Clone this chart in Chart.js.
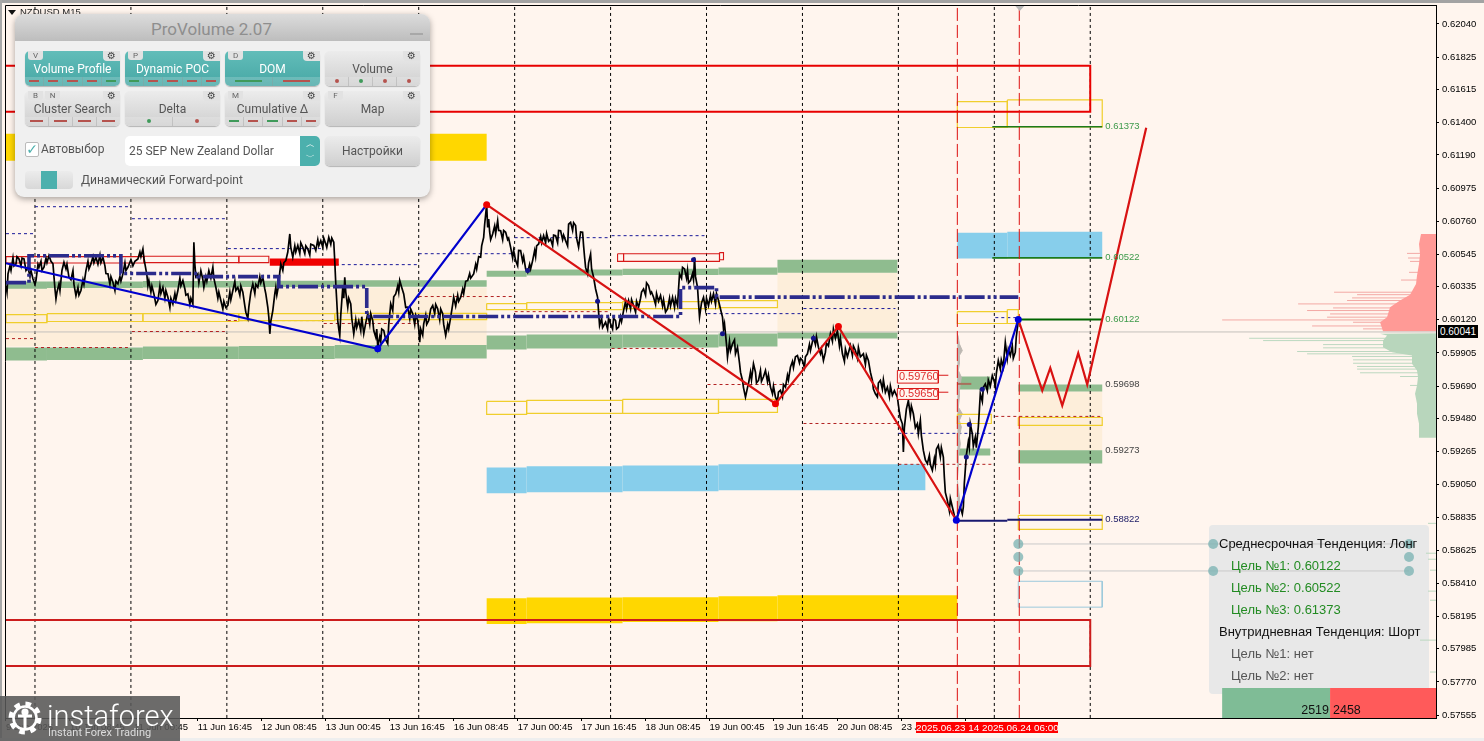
<!DOCTYPE html>
<html><head><meta charset="utf-8">
<script src="https://cdn.jsdelivr.net/npm/chart.js@4/dist/chart.umd.min.js"></script>
<style>
html,body{margin:0;padding:0;width:1484px;height:741px;overflow:hidden;background:#fff5ee}
#c{position:absolute;left:0;top:0;z-index:2}
.a{position:absolute;white-space:nowrap}
#panel{left:15px;top:14px;width:415px;height:183px;background:#f0f0f0;border-radius:9px;box-shadow:0 2px 6px rgba(0,0,0,.35);z-index:5;font-family:Roboto,sans-serif;color:#555;overflow:hidden}
#phead{left:0;top:0;width:393px;height:27px;padding-right:22px;background:linear-gradient(#dcdcdc,#bdbdbd);color:#8e8e8e;font-size:17px;line-height:30px;text-align:center}
.btn{width:95px;height:35px;border-radius:5px;background:linear-gradient(#ececec,#cfcfcf);box-shadow:0 1px 1px rgba(0,0,0,.25);font-size:12px;text-align:center;line-height:36px;color:#555}
.btn.on{background:linear-gradient(#62bdb9,#47a7a5);color:#fff}
.strip{position:absolute;left:0;bottom:0;width:95px;height:9px;background:rgba(255,255,255,.18);display:flex}
.strip i{flex:1;position:relative;border-right:1px solid rgba(150,150,150,.35);display:block}
.strip i:last-child{border-right:0}
.strip i b{position:absolute;left:22%;right:22%;top:3px;height:1.5px;display:block}
.strip i u{position:absolute;left:50%;top:2px;width:4px;height:4px;margin-left:-2px;border-radius:2px;display:block}
.tab{position:absolute;top:0;height:9px;width:15px;font-size:8px;line-height:9px;color:#666;background:#e2e2e2;border-radius:0 0 3px 3px;text-align:center}
.gear{position:absolute;right:0;top:0;height:10px;width:17px;font:10px/10px "DejaVu Sans";color:#444;background:#e2e2e2;border-radius:0 0 0 4px;text-align:center}
#trend{left:1209px;top:525px;width:220px;height:169px;background:#e8e8e8;border-radius:4px;z-index:1}
.t{font-family:"Liberation Sans",sans-serif;font-size:13px;z-index:3;line-height:16px}
#logo{left:0;top:696px;width:180px;height:45px;background:rgba(88,88,88,.88);z-index:6;color:#fff;font-family:Roboto,sans-serif;overflow:hidden}
</style></head><body>
<div class="a" style="left:0;top:0;width:1484px;height:3px;background:#a3a3a3"></div>
<div class="a" style="left:0;top:0;width:2px;height:741px;background:#a8a8a8"></div>
<div class="a" style="left:0;top:738px;width:1484px;height:3px;background:#eeeeee"></div>
<div class="a" id="trend"></div>
<canvas id="c" width="1484" height="741"></canvas>
<div class="a" style="left:8px;top:8px;width:0;height:0;border:4px solid transparent;border-top:5px solid #111;z-index:3;margin-top:2px"></div>
<div class="a" style="left:20px;top:6px;font:9.5px 'Liberation Sans';color:#222;z-index:3">NZDUSD,M15</div>
<div class="a" style="left:1438px;top:325px;width:40px;height:13px;background:#000;color:#fff;font:10px/13px 'Liberation Sans';text-align:center;z-index:3">0.60041</div>
<div class="a" style="left:916px;top:722px;width:142px;height:11px;background:#f00;color:#fff;font:9.9px/11px 'Liberation Sans';text-align:center;z-index:3">2025.06.23 14 2025.06.24 06:00</div>
<div class="a t" style="left:1219px;top:536px;color:#111">Среднесрочная Тенденция: Лонг</div>
<div class="a t" style="left:1231px;top:558px;color:#228b22">Цель №1: 0.60122</div>
<div class="a t" style="left:1231px;top:580px;color:#228b22">Цель №2: 0.60522</div>
<div class="a t" style="left:1231px;top:602px;color:#228b22">Цель №3: 0.61373</div>
<div class="a t" style="left:1219px;top:624px;color:#111">Внутридневная Тенденция: Шорт</div>
<div class="a t" style="left:1231px;top:646px;color:#555">Цель №1: нет</div>
<div class="a t" style="left:1231px;top:668px;color:#555">Цель №2: нет</div>
<div class="a" style="left:1222px;top:703px;width:107px;text-align:right;font:12.5px 'Liberation Sans';color:#111;z-index:3">2519</div>
<div class="a" style="left:1333px;top:703px;font:12.5px 'Liberation Sans';color:#111;z-index:3">2458</div>
<div class="a" id="panel">
 <div class="a" id="phead">ProVolume 2.07</div>
 <div class="a" style="left:395px;top:19px;width:13px;height:2px;background:#a8a8a8"></div>
 <div class="a" style="left:10px;top:128px;width:12px;height:13px;background:#fff;border:1px solid #bbb;border-radius:2px;color:#4cb0ad;font:14px/12px 'DejaVu Sans';text-align:center">✓</div>
 <div class="a" style="left:26px;top:128px;font-size:12px">Автовыбор</div>
 <div class="a" style="left:110px;top:122px;width:195px;height:30px;background:#fff;border-radius:5px;font-size:12px;line-height:31px;text-indent:4px;overflow:hidden">25 SEP New Zealand Dollar
   <div class="a" style="left:175px;top:0;width:20px;height:30px;background:#4cb0ad;color:#fff;font:9px/13px 'DejaVu Sans';text-align:center;text-indent:0;white-space:normal;padding-top:2px;box-sizing:border-box">︿<br>﹀</div></div>
 <div class="a btn" style="left:310px;top:122px;height:30px;line-height:30px">Настройки</div>
 <div class="a" style="left:10px;top:157px;width:48px;height:18px;background:linear-gradient(#ececec,#d8d8d8);border-radius:4px"><div class="a" style="left:16px;top:0;width:16px;height:18px;background:#4cb0ad"></div></div>
 <div class="a" style="left:66px;top:159px;font-size:12px">Динамический Forward-point</div>
</div>
<div class="a" id="logo">
 <svg class="a" style="left:6px;top:3px" width="38" height="40" viewBox="0 0 38 40"><circle cx="19" cy="19" r="14" fill="none" stroke="#fff" stroke-width="5" stroke-dasharray="5.5 5.5"/><circle cx="19" cy="19" r="11.5" fill="none" stroke="#fff" stroke-width="2.6"/><circle cx="19" cy="13" r="3.6" fill="#fff"/><path d="M19 17 L19 30 M12 17 L26 17" stroke="#fff" stroke-width="3"/></svg>
 <div class="a" style="left:47px;top:2px;font-size:29px;line-height:36px;font-weight:300">instaforex</div>
 <div class="a" style="left:48px;top:30px;font-size:11px;line-height:14px;color:#ddd">Instant Forex Trading</div>
</div>
<script>
// ---------- axes ----------
const yTicks=[0.62040,0.61825,0.61615,0.61400,0.61190,0.60975,0.60760,0.60545,0.60335,0.60120,0.59905,0.59690,0.59480,0.59265,0.59050,0.58835,0.58625,0.58410,0.58195,0.57985,0.57770,0.57555];
const xTickBars=[1,65,129,193,257,321,385,449,513,577,641,705,769,833,897,961];
const xTickLabels=["9 Jun 2025","10 Jun 08:45","11 Jun 00:45","11 Jun 16:45","12 Jun 08:45","13 Jun 00:45","13 Jun 16:45","16 Jun 08:45","17 Jun 00:45","17 Jun 16:45","18 Jun 08:45","19 Jun 00:45","19 Jun 16:45","20 Jun 08:45","23 Jun 00:45","23 Jun 16:45"];
const lastPrice=0.60041;
const daySeparators=[30,126,222,318,414,510,606,702,798,894,990,1086];
const forecastSeparators=[953,1015];
// ---------- price path [bar, price] ----------
const pricePath=[[1,.60342],[2,.60300],[3,.60418],[5,.60470],[6,.60440],[8,.60522],[9,.60470],[11,.60483],[12,.60530],[14,.60515],[16,.60470],[17,.60520],[19,.60515],[21,.60440],[23,.60461],[25,.60400],[26,.60440],[28,.60385],[30,.60350],[31,.60375],[33,.60480],[34,.60461],[36,.60500],[37,.60440],[39,.60461],[41,.60520],[42,.60490],[44,.60537],[46,.60500],[48,.60483],[49,.60400],[50,.60320],[51,.60256],[52,.60300],[54,.60353],[55,.60310],[57,.60440],[59,.60493],[61,.60450],[62,.60480],[64,.60396],[66,.60380],[68,.60439],[69,.60350],[71,.60277],[73,.60330],[74,.60280],[76,.60310],[78,.60380],[79,.60350],[81,.60439],[83,.60500],[84,.60450],[86,.60483],[88,.60530],[89,.60490],[91,.60526],[93,.60480],[95,.60540],[96,.60490],[98,.60526],[100,.60470],[101,.60420],[103,.60418],[105,.60350],[106,.60400],[108,.60364],[110,.60310],[111,.60370],[113,.60353],[115,.60400],[116,.60370],[118,.60418],[120,.60490],[121,.60440],[123,.60461],[126,.60510],[128,.60470],[130,.60500],[133,.60515],[135,.60560],[136,.60530],[138,.60580],[139,.60520],[140,.60483],[142,.60410],[143,.60340],[144,.60375],[146,.60300],[147,.60340],[149,.60288],[151,.60220],[153,.60245],[155,.60340],[156,.60290],[158,.60331],[160,.60260],[161,.60310],[163,.60267],[165,.60200],[166,.60260],[168,.60223],[170,.60290],[171,.60250],[173,.60310],[175,.60390],[176,.60340],[178,.60375],[180,.60320],[181,.60280],[183,.60288],[185,.60220],[186,.60260],[188,.60223],[189,.60623],[190,.60480],[191,.60400],[193,.60418],[194,.60360],[196,.60439],[198,.60380],[199,.60331],[201,.60400],[202,.60370],[204,.60439],[206,.60390],[208,.60461],[209,.60390],[211,.60331],[213,.60260],[214,.60300],[216,.60245],[218,.60190],[219,.60240],[221,.60200],[223,.60213],[225,.60300],[226,.60250],[228,.60310],[230,.60370],[231,.60310],[233,.60331],[235,.60280],[236,.60340],[238,.60299],[240,.60210],[241,.60169],[243,.60130],[244,.60202],[246,.60300],[248,.60353],[250,.60290],[251,.60350],[253,.60331],[255,.60400],[256,.60360],[258,.60396],[260,.60320],[261,.60288],[263,.60200],[264,.60137],[265,.60029],[266,.60110],[268,.60180],[270,.60290],[271,.60331],[272,.60280],[274,.60353],[275,.60430],[276,.60483],[278,.60440],[279,.60490],[281,.60504],[283,.60560],[285,.60677],[286,.60590],[288,.60526],[290,.60600],[291,.60560],[293,.60602],[295,.60550],[296,.60620],[298,.60591],[300,.60550],[301,.60600],[303,.60580],[305,.60540],[306,.60610],[309,.60602],[311,.60570],[313,.60640],[314,.60600],[316,.60634],[318,.60590],[319,.60650],[321,.60612],[322,.60590],[324,.60655],[326,.60610],[327,.60650],[329,.60623],[330,.60500],[331,.60353],[332,.60240],[333,.60115],[334,.60060],[335,.60018],[336,.60150],[338,.60331],[339,.60260],[340,.60396],[341,.60300],[343,.60202],[344,.60260],[346,.60223],[347,.60130],[349,.60029],[351,.60120],[352,.60070],[354,.60115],[356,.60050],[357,.60140],[359,.60029],[361,.60100],[363,.60159],[365,.60090],[366,.60160],[368,.60115],[369,.60050],[371,.60007],[372,.60060],[373,.59943],[375,.60010],[376,.59980],[377,.60060],[379,.60051],[381,.59990],[383,.59964],[384,.60090],[386,.60223],[388,.60180],[389,.60270],[391,.60288],[393,.60340],[394,.60300],[395,.60375],[397,.60330],[399,.60288],[401,.60200],[403,.60202],[405,.60130],[406,.60190],[408,.60159],[410,.60090],[411,.60150],[413,.60115],[414,.60060],[415,.59975],[416,.60060],[418,.60020],[419,.60094],[421,.60150],[422,.60090],[424,.60115],[426,.60190],[428,.60213],[430,.60160],[431,.60220],[433,.60191],[435,.60120],[436,.60190],[438,.60159],[439,.60090],[441,.60018],[443,.60090],[444,.60060],[446,.60137],[448,.60220],[449,.60267],[451,.60210],[453,.60280],[454,.60240],[456,.60267],[458,.60320],[459,.60290],[461,.60370],[463,.60375],[465,.60420],[466,.60390],[469,.60418],[471,.60480],[472,.60450],[474,.60530],[476,.60526],[477,.60600],[479,.60655],[480,.60740],[482,.60867],[483,.60720],[484,.60774],[485,.60690],[486,.60640],[488,.60677],[490,.60730],[491,.60680],[493,.60763],[494,.60700],[496,.60698],[498,.60640],[499,.60700],[501,.60688],[503,.60640],[504,.60650],[506,.60590],[508,.60520],[509,.60570],[511,.60504],[513,.60470],[514,.60570],[516,.60569],[518,.60500],[519,.60530],[521,.60450],[523,.60428],[525,.60480],[526,.60450],[528,.60504],[530,.60570],[531,.60530],[532,.60600],[534,.60612],[536,.60660],[537,.60620],[539,.60666],[541,.60620],[542,.60680],[544,.60630],[546,.60644],[548,.60600],[549,.60670],[551,.60666],[553,.60620],[554,.60700],[556,.60698],[558,.60640],[559,.60670],[561,.60634],[563,.60600],[564,.60740],[566,.60752],[568,.60700],[569,.60750],[571,.60731],[572,.60650],[574,.60590],[576,.60690],[578,.60688],[579,.60600],[580,.60526],[581,.60460],[583,.60418],[584,.60490],[586,.60547],[587,.60450],[589,.60396],[591,.60320],[593,.60266],[594,.60170],[595,.60083],[597,.60130],[598,.60070],[601,.60104],[603,.60060],[604,.60130],[606,.60094],[608,.60060],[609,.60130],[611,.60115],[612,.60060],[614,.60072],[616,.60140],[617,.60110],[619,.60180],[621,.60240],[622,.60190],[624,.60245],[626,.60190],[627,.60250],[629,.60212],[631,.60170],[632,.60240],[634,.60202],[636,.60260],[637,.60300],[639,.60320],[641,.60280],[642,.60360],[644,.60342],[646,.60290],[647,.60300],[649,.60266],[651,.60220],[652,.60290],[654,.60240],[656,.60277],[658,.60210],[659,.60250],[661,.60170],[663,.60191],[665,.60260],[666,.60210],[668,.60266],[670,.60200],[671,.60260],[673,.60212],[674,.60320],[675,.60418],[677,.60390],[678,.60460],[680,.60450],[682,.60390],[683,.60440],[684,.60360],[686,.60375],[688,.60420],[689,.60380],[690,.60525],[691,.60400],[693,.60331],[694,.60230],[695,.60137],[697,.60230],[699,.60266],[701,.60190],[702,.60260],[704,.60212],[706,.60280],[707,.60240],[709,.60288],[711,.60220],[712,.60290],[714,.60245],[716,.60190],[718,.60137],[719,.60060],[720,.60094],[722,.59960],[723,.59877],[725,.59980],[726,.59920],[728,.59964],[730,.59990],[731,.59900],[733,.59942],[735,.59840],[736,.59780],[738,.59726],[739,.59680],[741,.59618],[743,.59680],[744,.59705],[746,.59780],[747,.59730],[749,.59834],[751,.59780],[752,.59710],[754,.59726],[756,.59790],[757,.59720],[759,.59750],[761,.59791],[763,.59720],[764,.59760],[766,.59683],[768,.59640],[769,.59690],[771,.59618],[773,.59590],[774,.59650],[776,.59662],[778,.59620],[779,.59700],[781,.59683],[783,.59760],[784,.59730],[786,.59813],[788,.59850],[789,.59810],[791,.59880],[793,.59888],[795,.59840],[796,.59870],[798,.59856],[800,.59810],[801,.59880],[803,.59899],[805,.59960],[806,.59920],[809,.60007],[811,.59960],[812,.60010],[814,.59942],[816,.59900],[817,.59930],[819,.59856],[821,.59910],[822,.59970],[824,.59950],[826,.60029],[828,.59980],[829,.60060],[831,.60000],[833,.60050],[835,.59950],[836,.60000],[838,.59899],[840,.59850],[841,.59930],[843,.59880],[846,.59953],[848,.59890],[849,.59950],[851,.59921],[853,.59870],[854,.59940],[856,.59880],[859,.59899],[861,.59830],[862,.59890],[864,.59856],[866,.59780],[868,.59726],[869,.59670],[871,.59640],[873,.59620],[874,.59710],[876,.59726],[878,.59670],[879,.59730],[881,.59650],[883,.59683],[885,.59620],[886,.59690],[888,.59630],[890,.59660],[893,.59618],[895,.59520],[896,.59480],[898,.59445],[899,.59262],[900,.59420],[902,.59540],[904,.59596],[906,.59500],[907,.59560],[909,.59510],[911,.59420],[913,.59445],[914,.59380],[916,.59467],[917,.59370],[919,.59272],[921,.59210],[923,.59186],[925,.59240],[926,.59180],[928,.59143],[930,.59220],[931,.59180],[932,.59280],[934,.59305],[936,.59230],[937,.59290],[939,.59229],[940,.59100],[941,.59000],[943,.58948],[945,.58880],[946,.58960],[948,.58905],[950,.58850],[952,.58819],[954,.58870],[956,.58905],[958,.58860],[959,.58905],[960,.59060],[962,.59240],[964,.59330],[965,.59290],[966,.59445],[968,.59380],[969,.59300],[971,.59359],[972,.59290],[974,.59424],[975,.59530],[976,.59640],[978,.59590],[979,.59680],[981,.59704],[983,.59660],[984,.59730],[986,.59690],[988,.59758],[990,.59720],[991,.59683],[992,.59770],[994,.59856],[996,.59800],[997,.59860],[999,.59812],[1000,.59900],[1001,.59974],[1003,.59870],[1004,.59930],[1006,.59888],[1008,.59950],[1009,.59870],[1011,.59910],[1012,.60010],[1014,.60115]];
// ---------- zigzags ----------
const blueWave=[[1,.60487],[373,.59932],[482,.60867]];
const redWave=[[482,.60867],[771,.59575],[834,.60076],[952,.58819]];
const blueWave2=[[952,.58819],[1014,.60122]];
const forecastWave=[[1014,.60122],[1038,.59661],[1046,.59808],[1058,.59564],[1074,.59903],[1083,.59700],[1142,.61366]];
const bluePivots=[[373,.59932],[952,.58819],[1014,.60122]];
const redPivots=[[482,.60867],[771,.59575],[834,.60076]];
const navyDots=[[689,.60510],[593,.60240],[718,.60030],[809,.60000],[978,.59670],[965,.59440],[962,.59230],[523,.60440]];
// ---------- zones [barStart, barEnd, priceTop, priceBottom] ----------
const beigeZones=[[1,482,.60329,.59946],[773,893,.60426,.60037],[1014,1098,.59655,.59273]];
const greenZones=[[1,42,.60368,.60322],[42,138,.60368,.60326],[138,234,.60371,.60329],[234,330,.60374,.60332],[330,482,.60377,.60335],
[1,42,.59940,.59856],[42,138,.59940,.59859],[138,234,.59946,.59865],[234,330,.59950,.59865],[330,482,.59956,.59869],
[482,522,.60439,.60400],[522,618,.60446,.60407],[618,714,.60452,.60411],[714,773,.60459,.60413],[773,893,.60510,.60426],
[482,522,.60018,.59927],[522,618,.60024,.59934],[618,714,.60024,.59940],[714,773,.60031,.59946],[773,893,.60037,.59998],
[953,986,.59752,.59668],[953,986,.59285,.59240],[1014,1098,.59700,.59655],[1014,1098,.59273,.59188]];
const blueZones=[[482,522,.59162,.58994],[522,618,.59169,.59000],[618,714,.59175,.59007],[714,921,.59182,.59013],[953,1003,.60685,.60517],[1003,1098,.60692,.60523]];
const goldZones=[[1,482,.61327,.61152],[482,522,.58313,.58145],[522,618,.58317,.58151],[618,714,.58320,.58158],[714,773,.58326,.58164],[773,953,.58333,.58171]];
const yellowBoxes=[[1,42,.60154,.60102],[42,138,.60160,.60109],[138,234,.60160,.60109],[234,330,.60160,.60115],[330,482,.60162,.60121],
[482,522,.60225,.60186],[522,618,.60232,.60186],[618,714,.60238,.60193],[714,773,.60245,.60199],
[482,522,.59590,.59506],[522,618,.59597,.59512],[618,714,.59603,.59512],[714,773,.59603,.59519],
[953,1003,.61536,.61368],[1003,1098,.61547,.61372],[953,1003,.60173,.60096],[1003,1014,.60186,.60096],
[953,987,.59506,.59447],[1014,1098,.59486,.59435],[1014,1098,.58851,.58760]];
const redBoxes=[[1,139,.60530,.60489],[139,234,.60532,.60491],[234,264,.60532,.60491],[613,619,.60549,.60499],[619,715,.60549,.60499],[715,719,.60556,.60510]];
const solidRedZones=[[265,334,.60517,.60471]];
const skyOutline=[[1014,1098,.58423,.58255]];
const bigRedTop=[[0,.61768],[1086,.61768],[1086,.61470],[0,.61470]];
const bigRedBottom=[[0,.58171],[1086,.58171],[1086,.57873],[0,.57873]];
// ---------- levels [barStart, barEnd, price] ----------
const navyDashed=[[1,29,.60679],[30,123,.60854],[127,220,.60776],[223,318,.60582],[331,413,.60478],[414,510,.60549],[510,603,.60653],[607,700,.60666],[703,796,.60160],[799,891,.60193],[894,987,.59383],[991,1014,.60134]];
const redDashed=[[1,29,.59998],[30,123,.59940],[127,220,.60044],[223,318,.60115],[319,413,.60096],[414,510,.60271],[510,606,.60173],[607,699,.59934],[703,794,.59700],[799,893,.59447],[894,987,.59182],[991,1096,.59493]];
const greenLevels=[[988,1098,.61373,1.5],[988,1098,.60522,1.5],[1016,1098,.60122,2.2]];
const navyLevel=[[953,1003,.58815],[1003,1098,.58822]];
const pocPath=[[1,.60361],[24,.60361],[24,.60536],[116,.60536],[116,.60420],[193,.60420],[193,.60400],[274,.60400],[274,.60335],[362,.60335],[362,.60141],[676,.60141],[676,.60329],[712,.60329],[712,.60267],[1014,.60267]];
const priceNotes=[[893,934,.59791,.59709,"0.59760",944,.59760],[893,934,.59674,.59603,"0.59650",944,.59650]];
const levelLabels=[[1101,.61373,"0.61373","#3d9a4a"],[1101,.60522,"0.60522","#3d9a4a"],[1101,.60122,"0.60122","#3d9a4a"],[1101,.59698,"0.59698","#444"],[1101,.59273,"0.59273","#444"],[1101,.58822,"0.58822","#22226a"]];
// ---------- trend panel anchors ----------
const trendLines=[[1014,1405,.58665],[1014,1405,.58490]];
const trendDots=[[1014,.58665],[1014,.58580],[1014,.58490],[1209,.58665],[1209,.58490],[1405,.58665],[1405,.58580],[1405,.58490]];
// ---------- delta bar ----------
const deltaBuy=[[1218,1326,.57730,.57536]];
const deltaSell=[[1326,1432,.57730,.57536]];
// ---------- right-hand volume profile ----------
const redProfile=[[1432,.60677],[1417,.60677],[1415,.60612],[1416,.60547],[1415,.60482],[1413,.60407],[1412,.60353],[1406,.60283],[1396,.60245],[1386,.60201],[1383,.60137],[1376,.60104],[1379,.60046],[1432,.60046]];
const redSpikes=[[1403,.60551],[1404,.60521],[1406,.60499],[1405,.60428],[1397,.60378],[1330,.60299],[1353,.60283],[1348,.60262],[1343,.60245],[1294,.60223],[1329,.60197],[1303,.60180],[1326,.60158],[1323,.60137],[1218,.60119],[1349,.60104],[1308,.60080],[1359,.60061]];
const greenProfile=[[1432,.60033],[1376,.60029],[1383,.60018],[1379,.59985],[1379,.59942],[1388,.59910],[1408,.59888],[1408,.59834],[1413,.59791],[1414,.59748],[1413,.59694],[1411,.59640],[1413,.59575],[1413,.59510],[1415,.59445],[1415,.59355],[1432,.59355]];
const greenSpikes=[[1245,.60000],[1259,.59985],[1319,.59959],[1319,.59938],[1293,.59914],[1303,.59899],[1348,.59882],[1349,.59860],[1349,.59838],[1353,.59817],[1353,.59800],[1356,.59776],[1396,.59752],[1406,.59694],[1424,.58799],[1422,.58605],[1424,.58566],[1426,.58495],[1424,.58359],[1426,.58300],[1416,.58041],[1426,.57834]];
// ---------- session profile ----------
const sessionProfile=[[953,.60030],[954,.60007],[955,.59964],[958,.59920],[955,.59888],[955,.59834],[954,.59791],[957,.59748],[955,.59660],[955,.59618],[954,.59553],[958,.59510],[955,.59467],[957,.59424],[955,.59359],[956,.59315],[955,.59272],[954,.59229],[954,.59164],[953,.59078],[955,.58970],[956,.58905],[955,.58862],[953,.58862]];
const sessionPoc=[[953,.59704],[967,.59704]];

const P=a=>a.map(p=>({x:p[0],y:p[1]}));
const sets=[];
const add=(pts,o)=>sets.push(Object.assign({data:P(pts),pointRadius:0,borderWidth:1,borderColor:'transparent',tension:0,fill:false,spanGaps:false},o));
const rect=b=>[[b[0],b[2]],[b[1],b[2]],[b[1],b[3]],[b[0],b[3]],[b[0],b[2]]];
const solid=(list,c)=>list.forEach(b=>add(rect(b),{fill:'shape',backgroundColor:c,borderWidth:0}));
const box=(list,c,w)=>list.forEach(b=>add(rect(b),{borderColor:c,borderWidth:w||1}));
const seg=(list,o)=>list.forEach(l=>add([[l[0],l[2]],[l[1],l[2]]],o));

solid(beigeZones,'#fdeeda');
solid(greenZones,'#8fbc8f');
solid(blueZones,'#87ceeb');
solid(goldZones,'#ffd700');
// profile
redSpikes.forEach(s=>add([[s[0],s[1]],[1432,s[1]]],{borderColor:'#f3a9a5',borderWidth:1}));
greenSpikes.forEach(s=>add([[s[0],s[1]],[1432,s[1]]],{borderColor:'#bcd8c0',borderWidth:1}));
add(redProfile,{fill:'shape',backgroundColor:'#ff9a96'});
add(greenProfile,{fill:'shape',backgroundColor:'#b8d6bc'});
solid(deltaBuy,'#7fbc96');solid(deltaSell,'#ff5a5a');
// separators
daySeparators.forEach(b=>add([[b,.57536],[b,.62163]],{borderColor:'#000',borderWidth:1,borderDash:[3,3]}));
add([[0,lastPrice],[1432,lastPrice]],{borderColor:'#c4c0bc',borderWidth:1});
seg(navyDashed,{borderColor:'#1a1a9a',borderWidth:1,borderDash:[3,3]});
seg(redDashed,{borderColor:'#b22222',borderWidth:1,borderDash:[3,3]});
add(sessionProfile,{fill:'shape',backgroundColor:'#bdb8b2',borderColor:'#bdb8b2'});
add(sessionPoc,{borderColor:'#a8705c',borderWidth:2});
box(yellowBoxes,'#f0ce2c',1.2);
box(redBoxes,'#d81818',1.1);
solid(solidRedZones,'#f00000');
box(skyOutline,'#9cc9dc');
trendLines.forEach(l=>add([[l[0],l[2]],[l[1],l[2]]],{borderColor:'#c9c9c9',borderWidth:1}));
seg(greenLevels.slice(0,2),{borderColor:'#1c7a1c',borderWidth:1.6});
seg(greenLevels.slice(2),{borderColor:'#006400',borderWidth:2.2});
add(bigRedTop,{borderColor:'#e80000',borderWidth:2});
add(bigRedBottom,{borderColor:'#cc1c1c',borderWidth:2});
forecastSeparators.forEach(b=>add([[b,.57536],[b,.62163]],{borderColor:'#dd1010',borderWidth:1,borderDash:[13,4]}));
add(pricePath,{borderColor:'#000',borderWidth:1.7});
add(pocPath,{borderColor:'#2b2b8c',borderWidth:3.6,borderDash:[20,3,3,3,3,3]});
seg(navyLevel,{borderColor:'#191970',borderWidth:2});
add(blueWave,{borderColor:'#0000cd',borderWidth:2.2});
add(redWave,{borderColor:'#d81212',borderWidth:2.2});
add(blueWave2,{borderColor:'#0000cd',borderWidth:2.2});
add(forecastWave,{borderColor:'#d81212',borderWidth:2.2});
add(navyDots,{showLine:false,pointRadius:2.5,pointBackgroundColor:'#14148a',pointBorderWidth:0});
add(bluePivots,{showLine:false,pointRadius:3.5,pointBackgroundColor:'#0000dd',pointBorderWidth:0});
add(redPivots,{showLine:false,pointRadius:3.5,pointBackgroundColor:'#ee0000',pointBorderWidth:0});
priceNotes.forEach(n=>{add(rect(n),{fill:'shape',backgroundColor:'#fff5ee',borderColor:'#d81818',borderWidth:1});add([[n[1],n[6]],[n[5],n[6]]],{borderColor:'#d81818',borderWidth:1});});
add(trendDots,{showLine:false,pointRadius:5,pointBackgroundColor:'rgba(120,178,178,.75)',pointBorderWidth:0});
sets.forEach((d,i)=>d.order=-i);

const frame={id:'frame',afterDatasetsDraw(ch){
  const {ctx,chartArea:a,scales:{x,y}}=ch;
  ctx.save();ctx.strokeStyle='#000';ctx.lineWidth=1;ctx.beginPath();
  ctx.moveTo(a.left+.5,a.bottom);ctx.lineTo(a.left+.5,a.top+.5);ctx.lineTo(a.right,a.top+.5);ctx.stroke();
  ctx.textBaseline='middle';ctx.textAlign='left';
  ctx.font='9.5px "Liberation Sans"';
  levelLabels.forEach(l=>{ctx.fillStyle=l[3];ctx.fillText(l[2],x.getPixelForValue(l[0]),y.getPixelForValue(l[1]));});
  ctx.font='11px "Liberation Sans"';ctx.fillStyle='#e03030';
  priceNotes.forEach(n=>ctx.fillText(n[4],x.getPixelForValue(n[0])+1.5,y.getPixelForValue((n[2]+n[3])/2)));
  ctx.fillStyle='#b8b8b8';const tx=x.getPixelForValue(forecastSeparators[1]);ctx.beginPath();ctx.moveTo(tx-4,a.top+1);ctx.lineTo(tx+5,a.top+1);ctx.lineTo(tx+.5,a.top+6);ctx.fill();
  ctx.restore();
}};
const noPad=s=>{s.paddingTop=0;s.paddingBottom=0;s.paddingLeft=0;s.paddingRight=0;};
new Chart(document.getElementById('c'),{type:'line',data:{datasets:sets},plugins:[frame],options:{
  responsive:false,animation:false,devicePixelRatio:1,events:[],
  layout:{padding:{left:4,top:4,right:0,bottom:0}},
  plugins:{legend:{display:false},tooltip:{enabled:false},title:{display:false}},
  scales:{
    x:{type:'linear',min:0,max:1432,afterBuildTicks:s=>{s.ticks=xTickBars.map(v=>({value:v}));},afterFit:s=>{s.height=23;noPad(s);},
      grid:{drawOnChartArea:false,tickLength:3,tickColor:'#000',color:'#000'},border:{color:'#000'},
      ticks:{align:'start',autoSkip:false,maxRotation:0,padding:1,color:'#000',font:{family:'Liberation Sans',size:9.5},callback:v=>xTickLabels[xTickBars.indexOf(v)]||''}},
    y:{position:'right',min:0.575356,max:0.62163,afterBuildTicks:s=>{s.ticks=yTicks.map(v=>({value:v}));},afterFit:s=>{s.width=48;noPad(s);},
      grid:{drawOnChartArea:false,tickLength:3,tickColor:'#000',color:'#000'},border:{color:'#000'},
      ticks:{autoSkip:false,padding:3,color:'#000',font:{family:'Liberation Sans',size:9.5},callback:v=>v.toFixed(5)}}
  }}});

// ---------- ProVolume panel ----------
const panelButtons=[
 ["Volume Profile",["V"],1,"dash","rrrrg"],["Dynamic POC",["P"],1,"dash","grrrr"],["DOM",["D"],1,"dash","gr"],["Volume",[],0,"dot","rgrr"],
 ["Cluster Search",["B","N"],0,"dash","rrrr"],["Delta",[],0,"dot","gr"],["Cumulative Δ",["M"],0,"dash","grgrr"],["Map",["F"],0,"dash",""]];
const panel=document.getElementById('panel');
panelButtons.forEach((b,i)=>{
  const e=document.createElement('div');e.className='a btn'+(b[2]?' on':'');
  e.style.left=(10+100*(i%4))+'px';e.style.top=(37+40*Math.floor(i/4))+'px';
  e.textContent=b[0];
  b[1].forEach((k,j)=>{const t=document.createElement('div');t.className='tab';t.style.left=(3+17*j)+'px';t.textContent=k;e.appendChild(t);});
  const g=document.createElement('div');g.className='gear';g.textContent='⚙';e.appendChild(g);
  if(b[4]){const s=document.createElement('div');s.className='strip';
    for(const c of b[4]){const i2=document.createElement('i');const col=c=='r'?'#b5534e':'#3f9a5a';
      const m=document.createElement(b[3]=='dash'?'b':'u');m.style.background=col;i2.appendChild(m);s.appendChild(i2);}
    e.appendChild(s);}
  panel.appendChild(e);
});
</script>
</body></html>
